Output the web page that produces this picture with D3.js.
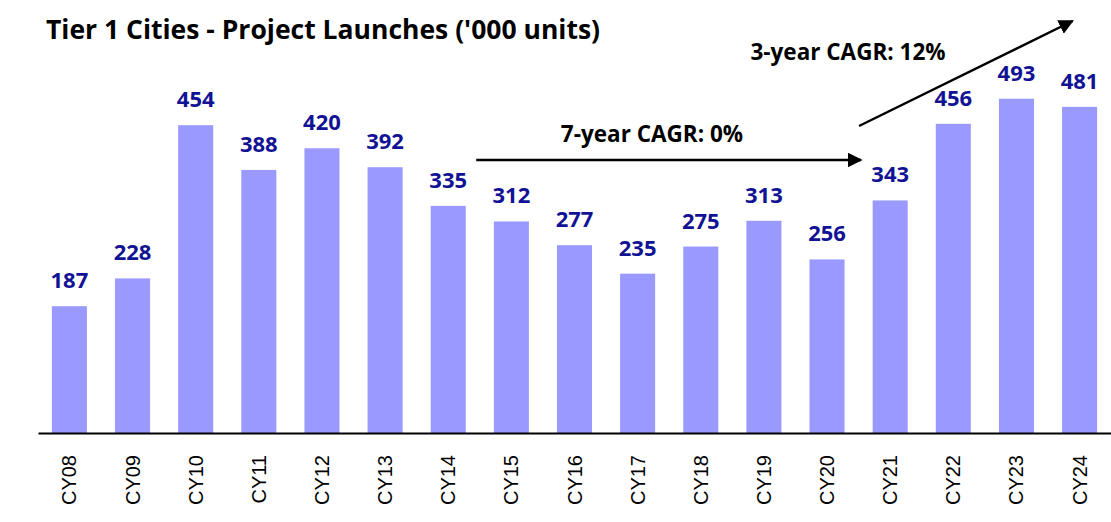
<!DOCTYPE html>
<html>
<head>
<meta charset="utf-8">
<script src="https://cdn.jsdelivr.net/npm/d3@7"></script>
<style>
  body { margin: 0; background: #fff; }
</style>
</head>
<body>
<div id="chart"></div>
<script>
const years = ["CY08", "CY09", "CY10", "CY11", "CY12", "CY13", "CY14", "CY15", "CY16",
    "CY17", "CY18", "CY19", "CY20", "CY21", "CY22", "CY23", "CY24"];
const launches = [187, 228, 454, 388, 420, 392, 335, 312, 277, 235, 275, 313, 256, 343, 456, 493, 481];

const width = 1111, height = 522;
const margin = { top: 94, right: 0, bottom: 89, left: 38 };
const baseY = height - margin.bottom;

const svg = d3.select("#chart")
    .append("svg")
    .attr("width", width)
    .attr("height", height);

const x = d3.scaleBand().domain(years).range([margin.left, width - margin.right]).paddingInner(0.445).paddingOuter(0.22);
const y = d3.scaleLinear().domain([0, 500]).range([baseY, margin.top]);

svg.append("text")
    .attr("x", 46)
    .attr("y", 39)
    .style("font-family", "'Open Sans', sans-serif")
    .style("font-weight", "bold")
    .style("font-size", "26.5px")
    .text("Tier 1 Cities - Project Launches ('000 units)");

svg.append("g")
    .selectAll("rect")
    .data(launches)
    .join("rect")
    .attr("x", (d, i) => x(years[i]))
    .attr("y", d => y(d))
    .attr("width", x.bandwidth())
    .attr("height", d => baseY - y(d))
    .attr("fill", "#9999ff");

svg.append("g")
    .selectAll("text")
    .data(launches)
    .join("text")
    .attr("x", (d, i) => x(years[i]) + x.bandwidth() / 2)
    .attr("y", d => y(d) - 18)
    .attr("text-anchor", "middle")
    .style("font-family", "'Open Sans', sans-serif")
    .style("font-weight", "bold")
    .style("font-size", "22px")
    .attr("fill", "#121294")
    .text(d => d);

const xAxis = d3.axisBottom(x).tickSize(0).tickPadding(0);
const xAxisGroup = svg.append("g")
    .attr("transform", `translate(0, ${baseY})`)
    .call(xAxis);
xAxisGroup.select(".domain").attr("stroke", "#000").attr("stroke-width", 2);
xAxisGroup.selectAll(".tick text")
    .attr("transform", "rotate(-90)")
    .attr("x", -22)
    .attr("y", 0)
    .attr("dy", "0.35em")
    .attr("text-anchor", "end")
    .style("font-family", "'Liberation Sans', Arial, sans-serif")
    .style("font-size", "20px")
    .attr("fill", "#000");

// arrows
const defs = svg.append("defs");
defs.append("marker")
    .attr("id", "arrow")
    .attr("viewBox", "0 0 10 10")
    .attr("refX", 9).attr("refY", 5)
    .attr("markerWidth", 6).attr("markerHeight", 6)
    .attr("markerUnits", "strokeWidth")
    .attr("orient", "auto")
    .append("path")
    .attr("d", "M0,0 L10,5 L0,10 z")
    .attr("fill", "#000");

const cx = yr => x(yr) + x.bandwidth() / 2;

svg.append("line")
    .attr("x1", cx("CY14") + 28).attr("y1", 160)
    .attr("x2", cx("CY20") + 34).attr("y2", 160)
    .attr("stroke", "#000").attr("stroke-width", 2.5)
    .attr("marker-end", "url(#arrow)");

svg.append("line")
    .attr("x1", cx("CY20") + 32).attr("y1", 126)
    .attr("x2", cx("CY24") - 7).attr("y2", 21)
    .attr("stroke", "#000").attr("stroke-width", 2.5)
    .attr("marker-end", "url(#arrow)");

svg.append("text")
    .attr("x", 652).attr("y", 142)
    .attr("text-anchor", "middle")
    .style("font-family", "'Open Sans', sans-serif")
    .style("font-weight", "bold")
    .style("font-size", "22.5px")
    .text("7-year CAGR: 0%");

svg.append("text")
    .attr("x", 848).attr("y", 60)
    .attr("text-anchor", "middle")
    .style("font-family", "'Open Sans', sans-serif")
    .style("font-weight", "bold")
    .style("font-size", "22.5px")
    .text("3-year CAGR: 12%");
</script>
</body>
</html>
